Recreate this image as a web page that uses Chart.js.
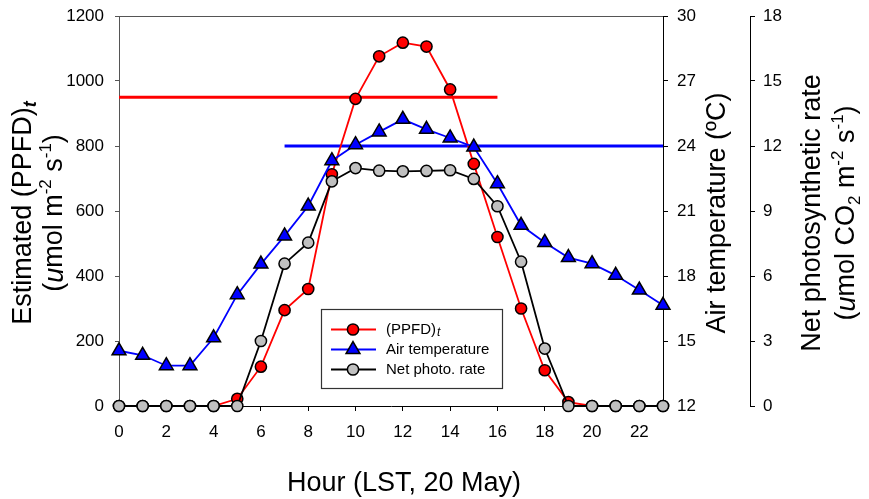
<!DOCTYPE html>
<html>
<head>
<meta charset="utf-8">
<script src="https://cdn.jsdelivr.net/npm/chart.js@4/dist/chart.umd.min.js"></script>
<style>
  html, body { margin: 0; padding: 0; background: #fff; }
  #wrap { width: 869px; height: 499px; }
</style>
</head>
<body>
<div id="wrap"><canvas id="chart" width="869" height="499"></canvas></div>
<script>
  // ---- data ----
  const hours = [0, 1, 2, 3, 4, 5, 6, 7, 8, 9, 10, 11, 12, 13, 14, 15, 16, 17, 18, 19, 20, 21, 22, 23];
  const ppfd = [0, 0, 0, 0, 0, 22, 121, 295, 360, 713, 945, 1076, 1118, 1106, 974, 745, 520, 300, 110, 12, 0, 0, 0, 0];
  const airTemp = [14.55, 14.34, 13.86, 13.86, 15.15, 17.14, 18.55, 19.85, 21.23, 23.32, 24.06, 24.65, 25.23,
                   24.77, 24.37, 23.95, 22.26, 20.34, 19.55, 18.85, 18.57, 18.03, 17.35, 16.65];
  const netPhoto = [0, 0, 0, 0, 0, 0, 3.0, 6.57, 7.54, 10.37, 10.98, 10.86, 10.83, 10.85, 10.88, 10.48, 9.22,
                    6.66, 2.65, 0, 0, 0, 0, 0];

  // reference levels (hour span + value)
  const ppfdRefHours = [0, 16];
  const ppfdRefValue = 950;
  const tempRefHours = [7, 23];
  const tempRefValue = 24;

  // tick labels
  const xTicks = [0, 2, 4, 6, 8, 10, 12, 14, 16, 18, 20, 22];
  const ppfdTicks = [0, 200, 400, 600, 800, 1000, 1200];
  const tempTicks = [12, 15, 18, 21, 24, 27, 30];
  const netTicks = [0, 3, 6, 9, 12, 15, 18];

  const FONT = "'Liberation Sans', Arial, sans-serif";
  const pts = (ys) => hours.map((h, i) => ({ x: h, y: ys[i] }));
  const fixTicks = (list) => (s) => { s.ticks = list.map((v) => ({ value: v })); };
  // fixed box sizes, no extra label padding
  const fitWidth = (w) => (s) => { s.width = w; s.paddingTop = 0; s.paddingBottom = 0; };
  const fitHeight = (h) => (s) => { s.height = h; s.paddingLeft = 0; s.paddingRight = 0; };

  // axis titles with mixed styles, drawn as canvas text
  function drawRuns(ctx, runs, x, y, rotate) {
    ctx.save();
    ctx.translate(x, y);
    if (rotate) ctx.rotate(rotate);
    let total = 0;
    runs.forEach((r) => { ctx.font = r.font; r.w = ctx.measureText(r.text).width; total += r.w; });
    let cx = -total / 2;
    ctx.fillStyle = "#000";
    ctx.textBaseline = "middle";
    ctx.textAlign = "left";
    runs.forEach((r) => {
      ctx.font = r.font;
      ctx.fillText(r.text, cx, r.dy || 0);
      cx += r.w;
    });
    ctx.restore();
  }

  const big = "27px " + FONT;
  const sup = "17px " + FONT;
  const ital = "italic 27px " + FONT;

  const titlesPlugin = {
    id: "titles",
    afterDraw(chart) {
      const ctx = chart.ctx;
      const a = chart.chartArea;
      const midY = (a.top + a.bottom) / 2 + 2;

      // frame top line
      ctx.save();
      ctx.strokeStyle = "#555";
      ctx.lineWidth = 1;
      ctx.beginPath();
      ctx.moveTo(a.left, a.top + 0.5);
      ctx.lineTo(a.right, a.top + 0.5);
      ctx.stroke();
      ctx.restore();

      // left titles
      drawRuns(ctx, [
        { text: "Estimated (PPFD)", font: big },
        { text: "t", font: "italic bold 18px " + FONT, dy: 7 }
      ], 24, midY, -Math.PI / 2);
      drawRuns(ctx, [
        { text: "(", font: big },
        { text: "u", font: ital },
        { text: "mol m", font: big },
        { text: "-2", font: sup, dy: -9 },
        { text: " s", font: big },
        { text: "-1", font: sup, dy: -9 },
        { text: ")", font: big }
      ], 55, midY, -Math.PI / 2);

      // right titles
      drawRuns(ctx, [{ text: "Air temperature (ºC)", font: big }], 718, midY, -Math.PI / 2);
      drawRuns(ctx, [{ text: "Net photosynthetic rate", font: big }], 813, midY, -Math.PI / 2);
      drawRuns(ctx, [
        { text: "(", font: big },
        { text: "u", font: ital },
        { text: "mol CO", font: big },
        { text: "2", font: sup, dy: 8 },
        { text: " m", font: big },
        { text: "-2", font: sup, dy: -9 },
        { text: " s", font: big },
        { text: "-1", font: sup, dy: -9 },
        { text: ")", font: big }
      ], 847, midY, -Math.PI / 2);

      // x title
      drawRuns(ctx, [{ text: "Hour (LST, 20 May)", font: big }], 404, 484, 0);

      // legend box
      const lx = 321, ly = 309, lw = 181, lh = 79;
      ctx.save();
      ctx.fillStyle = "#fff";
      ctx.fillRect(lx, ly, lw, lh);
      ctx.strokeStyle = "#333";
      ctx.lineWidth = 1.2;
      ctx.strokeRect(lx + 0.5, ly + 0.5, lw, lh);
      [0, 1, 2].forEach((di, k) => {
        const ds = chart.data.datasets[di];
        const y = ly + 20.5 + k * 20;
        ctx.strokeStyle = ds.borderColor;
        ctx.lineWidth = ds.borderWidth;
        ctx.beginPath();
        ctx.moveTo(331, y);
        ctx.lineTo(376, y);
        ctx.stroke();
        ctx.fillStyle = ds.pointBackgroundColor;
        ctx.strokeStyle = ds.pointBorderColor;
        ctx.lineWidth = ds.pointBorderWidth;
        ctx.beginPath();
        if (ds.pointStyle === "triangle") {
          const r = ds.pointRadius;
          ctx.moveTo(353, y - r);
          ctx.lineTo(353 + r * 0.866, y + r * 0.5);
          ctx.lineTo(353 - r * 0.866, y + r * 0.5);
          ctx.closePath();
        } else {
          ctx.arc(353, y, ds.pointRadius, 0, Math.PI * 2);
        }
        ctx.fill();
        ctx.stroke();
        ctx.fillStyle = "#000";
        ctx.textBaseline = "middle";
        ctx.textAlign = "left";
        ctx.font = "15px " + FONT;
        if (di === 0) {
          ctx.fillText("(PPFD)", 386, y);
          const w = ctx.measureText("(PPFD)").width;
          ctx.font = "italic 12px " + FONT;
          ctx.fillText("t", 386 + w + 1, y + 3);
        } else {
          ctx.fillText(ds.label, 386, y);
        }
      });
      ctx.restore();
    }
  };

  const tickFont = { family: FONT, size: 17 };
  const plain = (v) => String(v);

  new Chart(document.getElementById("chart"), {
    type: "line",
    data: {
      datasets: [
        {
          label: "(PPFD)t",
          data: pts(ppfd),
          yAxisID: "y",
          borderColor: "#ff0000",
          borderWidth: 1.8,
          pointStyle: "circle",
          pointRadius: 5.6,
          pointBackgroundColor: "#ff0000",
          pointBorderColor: "#000",
          pointBorderWidth: 1.5,
          order: 3,
          clip: false
        },
        {
          label: "Air temperature",
          data: pts(airTemp),
          yAxisID: "y2",
          borderColor: "#0000ff",
          borderWidth: 1.8,
          pointStyle: "triangle",
          pointRadius: 8,
          pointBackgroundColor: "#0000ff",
          pointBorderColor: "#000",
          pointBorderWidth: 1.5,
          order: 2,
          clip: false
        },
        {
          label: "Net photo. rate",
          data: pts(netPhoto),
          yAxisID: "y3",
          borderColor: "#000",
          borderWidth: 1.8,
          pointStyle: "circle",
          pointRadius: 5.6,
          pointBackgroundColor: "#c0c0c0",
          pointBorderColor: "#000",
          pointBorderWidth: 1.5,
          order: 1,
          clip: false
        },
        {
          label: "ppfd ref",
          data: ppfdRefHours.map((h) => ({ x: h, y: ppfdRefValue })),
          yAxisID: "y",
          borderColor: "#ff0000",
          borderWidth: 3,
          pointRadius: 0,
          order: 10,
          clip: false
        },
        {
          label: "temp ref",
          data: tempRefHours.map((h) => ({ x: h, y: tempRefValue })),
          yAxisID: "y2",
          borderColor: "#0000ff",
          borderWidth: 3,
          pointRadius: 0,
          order: 10,
          clip: false
        }
      ]
    },
    options: {
      responsive: false,
      animation: false,
      layout: { padding: { top: 16, left: 0, right: 0, bottom: 0 } },
      plugins: {
        legend: { display: false },
        tooltip: { enabled: false }
      },
      scales: {
        x: {
          type: "linear",
          position: "bottom",
          min: 0,
          max: 23,
          afterBuildTicks: fixTicks(xTicks),
          afterFit: fitHeight(93),
          ticks: { font: tickFont, color: "#000", padding: 11, maxRotation: 0, callback: plain },
          grid: { drawOnChartArea: false, tickLength: 5, tickColor: "#000" },
          border: { display: true, color: "#000", width: 1 }
        },
        y: {
          position: "left",
          min: 0,
          max: 1200,
          afterBuildTicks: fixTicks(ppfdTicks),
          afterFit: fitWidth(119),
          ticks: { font: tickFont, color: "#000", padding: 11, callback: plain },
          grid: { drawOnChartArea: false, tickLength: 4, tickColor: "#555" },
          border: { display: true, color: "#555", width: 1 }
        },
        y2: {
          position: "right",
          min: 12,
          max: 30,
          afterBuildTicks: fixTicks(tempTicks),
          afterFit: fitWidth(87),
          ticks: { font: tickFont, color: "#000", padding: 9, callback: plain },
          grid: { drawOnChartArea: false, tickLength: 5, tickColor: "#000" },
          border: { display: true, color: "#000", width: 1 }
        },
        y3: {
          position: "right",
          min: 0,
          max: 18,
          afterBuildTicks: fixTicks(netTicks),
          afterFit: fitWidth(119),
          ticks: { font: tickFont, color: "#000", padding: 8, callback: plain },
          grid: { drawOnChartArea: false, tickLength: 5, tickColor: "#000" },
          border: { display: true, color: "#000", width: 1 }
        }
      }
    },
    plugins: [titlesPlugin]
  });
</script>
</body>
</html>
